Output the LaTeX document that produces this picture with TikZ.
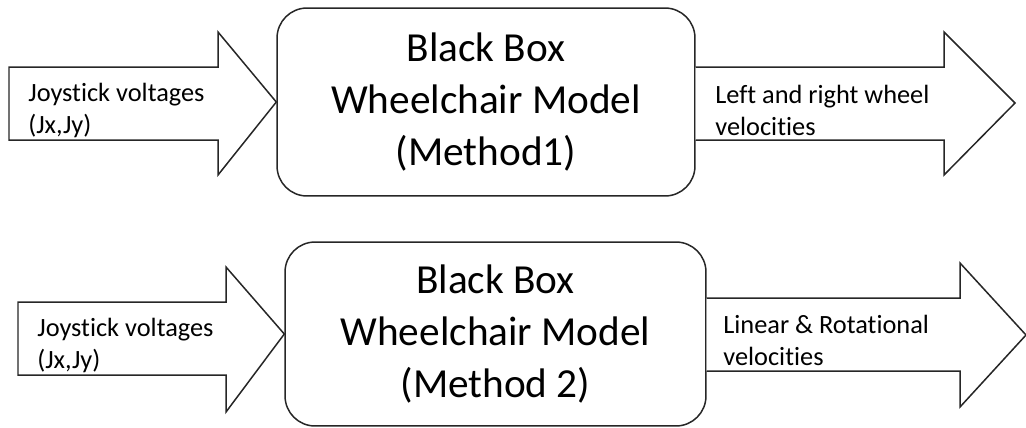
\documentclass[tikz,border=0pt]{standalone}
\usepackage{fontspec}
\setmainfont{Carlito}[Ligatures=NoCommon]
\usepackage{tikz}
\usetikzlibrary{calc,positioning}

\begin{document}
\begin{tikzpicture}[
    x=0.02cm,y=-0.02cm,
    model/.style={draw=black!85,line width=0.85pt,rounded corners=0.6cm,fill=white,align=center,inner sep=0pt,
        font=\fontsize{23.5}{29.5}\selectfont},
    bigarrow/.style={draw=black!85,line width=0.85pt,fill=white,line join=miter},
    note/.style={font=\fontsize{15}{18.2}\selectfont,align=left,anchor=west,inner sep=0pt}
]
\useasboundingbox (0,0) rectangle (1026,427);

% top row
\node[model,minimum width=8.36cm,minimum height=3.76cm] (box1) at (486,102)
    {Black Box\\Wheelchair Model\\(Method1)};
\draw[bigarrow] (9,67) -- (218,67) -- (218,32) -- (box1.west) -- (218,175) -- (218,140) -- (9,140) -- cycle;
\draw[bigarrow] (box1.east |- 0,67) -- (944,67) -- (944,32) -- (1015,103) -- (944,175) -- (944,140) -- (box1.east |- 0,140);
\node[note] (in1) at (28,110) {Joystick voltages\\(Jx,Jy)};
\node[note] (out1) at (715,110) {Left and right wheel\\velocities};

% bottom row
\node[model,minimum width=8.42cm,minimum height=3.68cm] (box2) at (495.5,334)
    {Black Box\\Wheelchair Model\\(Method 2)};
\draw[bigarrow] (18,302) -- (226,302) -- (226,267) -- (box2.west) -- (226,412) -- (226,375) -- (18,375) -- cycle;
\draw[bigarrow] (box2.east |- 0,298) -- (960,298) -- (960,263) -- (1026,335) -- (960,407) -- (960,371) -- (box2.east |- 0,371);
\node[note] (in2) at (37,345) {Joystick voltages\\(Jx,Jy)};
\node[note] (out2) at (723,340) {Linear \& Rotational\\velocities};
\end{tikzpicture}
\end{document}
